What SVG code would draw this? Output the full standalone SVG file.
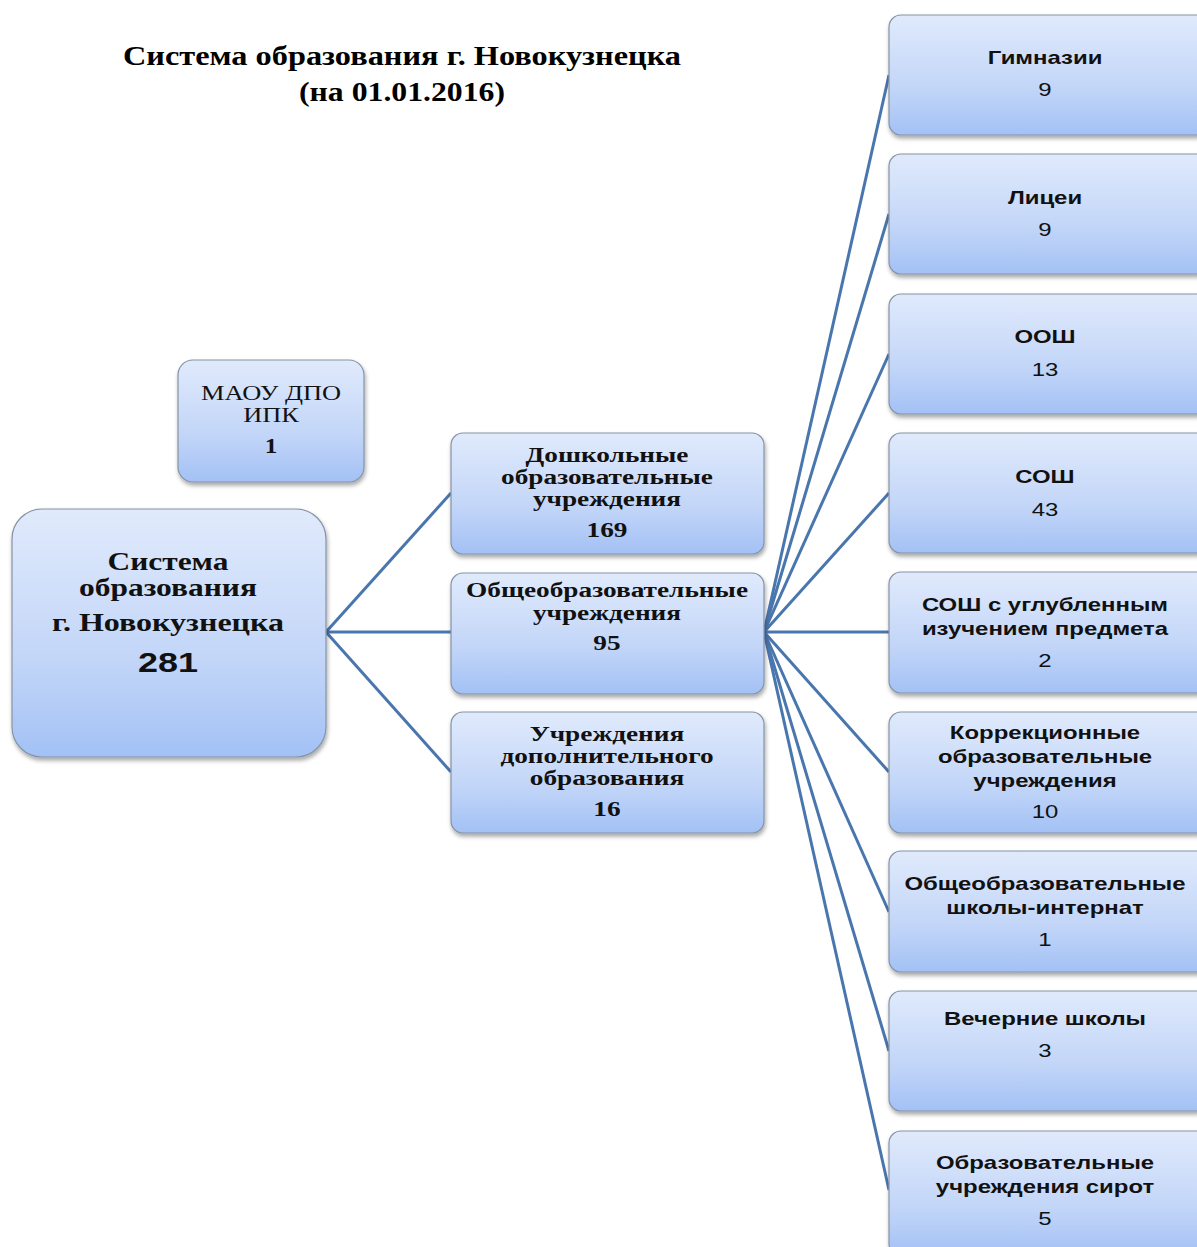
<svg xmlns="http://www.w3.org/2000/svg" width="1197" height="1247" viewBox="0 0 1197 1247">
<defs>
<linearGradient id="g" x1="0" y1="0" x2="0" y2="1">
<stop offset="0" stop-color="#e0eafc"/>
<stop offset="0.6" stop-color="#c3d6f8"/>
<stop offset="1" stop-color="#a3c1f5"/>
</linearGradient>
<filter id="sh" x="-10%" y="-10%" width="125%" height="125%">
<feDropShadow dx="1" dy="3" stdDeviation="2" flood-color="#000" flood-opacity="0.35"/>
</filter>
<style>
.box{fill:url(#g);stroke:#8593a6;stroke-width:1.2;filter:url(#sh)}
.ser{font-family:"Liberation Serif","Times New Roman",serif;font-weight:bold;font-size:21px;fill:#111;text-anchor:middle}
.big{font-size:25px}
.serr{font-family:"Liberation Serif","Times New Roman",serif;font-size:22px;fill:#111;text-anchor:middle}
.san{font-family:"Liberation Sans",Arial,sans-serif;font-weight:bold;font-size:18px;fill:#111;text-anchor:middle}
.num{font-family:"Liberation Sans",Arial,sans-serif;font-size:18px;fill:#111;text-anchor:middle}
.con{stroke:#4a76ae;stroke-width:3;fill:none}
</style>
</defs>
<rect width="1197" height="1247" fill="#fff"/>
<g id="title">
<text x="402" y="65" font-family="Liberation Serif, serif" font-weight="bold" font-size="28" text-anchor="middle" textLength="558" lengthAdjust="spacingAndGlyphs">Система образования г. Новокузнецка</text>
<text x="402" y="101" font-family="Liberation Serif, serif" font-weight="bold" font-size="28" text-anchor="middle" textLength="206" lengthAdjust="spacingAndGlyphs">(на 01.01.2016)</text>
</g>
<g id="connectors">
<line class="con" x1="326" y1="632" x2="451" y2="493"/>
<line class="con" x1="326" y1="632" x2="451" y2="632"/>
<line class="con" x1="326" y1="632" x2="451" y2="772"/>
<line class="con" x1="764" y1="632" x2="889" y2="75"/>
<line class="con" x1="764" y1="632" x2="889" y2="214"/>
<line class="con" x1="764" y1="632" x2="889" y2="354"/>
<line class="con" x1="764" y1="632" x2="889" y2="493"/>
<line class="con" x1="764" y1="632" x2="889" y2="632"/>
<line class="con" x1="764" y1="632" x2="889" y2="772"/>
<line class="con" x1="764" y1="632" x2="889" y2="912"/>
<line class="con" x1="764" y1="632" x2="889" y2="1051"/>
<line class="con" x1="764" y1="632" x2="889" y2="1190"/>
</g>
<g id="root">
<rect class="box" x="12" y="509" width="314" height="248" rx="30"/>
<text class="ser big" x="168" y="570" textLength="121" lengthAdjust="spacingAndGlyphs">Система</text>
<text class="ser big" x="168" y="596" textLength="178" lengthAdjust="spacingAndGlyphs">образования</text>
<text class="ser big" x="168" y="631" textLength="232" lengthAdjust="spacingAndGlyphs">г. Новокузнецка</text>
<text x="168" y="672" font-family="Liberation Sans, Arial, sans-serif" font-weight="bold" font-size="28" text-anchor="middle" fill="#111" textLength="60" lengthAdjust="spacingAndGlyphs">281</text>
</g>
<g id="maou">
<rect class="box" x="178" y="360" width="186" height="122" rx="15"/>
<g transform="translate(271,0) scale(1.2,1)">
<text class="serr" x="0" y="400">МАОУ ДПО</text>
<text class="serr" x="0" y="422">ИПК</text>
<text class="ser" x="0" y="453">1</text>
</g>
</g>
<g id="preschool">
<rect class="box" x="451" y="433" width="313" height="121" rx="12"/>
<g transform="translate(607,0) scale(1.3,1)">
<text class="ser" x="0" y="462">Дошкольные</text>
<text class="ser" x="0" y="484">образовательные</text>
<text class="ser" x="0" y="506">учреждения</text>
<text class="ser" x="0" y="537">169</text>
</g>
</g>
<g id="general">
<rect class="box" x="451" y="573" width="313" height="121" rx="12"/>
<g transform="translate(607,0) scale(1.3,1)">
<text class="ser" x="0" y="597">Общеобразовательные</text>
<text class="ser" x="0" y="620">учреждения</text>
<text class="ser" x="0" y="650">95</text>
</g>
</g>
<g id="additional">
<rect class="box" x="451" y="712" width="313" height="121" rx="12"/>
<g transform="translate(607,0) scale(1.3,1)">
<text class="ser" x="0" y="741">Учреждения</text>
<text class="ser" x="0" y="763">дополнительного</text>
<text class="ser" x="0" y="785">образования</text>
<text class="ser" x="0" y="816">16</text>
</g>
</g>
<g id="gymn">
<rect class="box" x="889" y="15" width="320" height="120" rx="12"/>
<g transform="translate(1045,0) scale(1.33,1)"><text class="san" x="0" y="64">Гимназии</text><text class="num" x="0" y="96">9</text></g>
</g>
<g id="lyc">
<rect class="box" x="889" y="154" width="320" height="120" rx="12"/>
<g transform="translate(1045,0) scale(1.33,1)"><text class="san" x="0" y="204">Лицеи</text><text class="num" x="0" y="236">9</text></g>
</g>
<g id="oosh">
<rect class="box" x="889" y="294" width="320" height="120" rx="12"/>
<g transform="translate(1045,0) scale(1.33,1)"><text class="san" x="0" y="343">ООШ</text><text class="num" x="0" y="376">13</text></g>
</g>
<g id="sosh">
<rect class="box" x="889" y="433" width="320" height="120" rx="12"/>
<g transform="translate(1045,0) scale(1.33,1)"><text class="san" x="0" y="483">СОШ</text><text class="num" x="0" y="516">43</text></g>
</g>
<g id="sosh-deep">
<rect class="box" x="889" y="572" width="320" height="121" rx="12"/>
<g transform="translate(1045,0) scale(1.33,1)"><text class="san" x="0" y="611">СОШ с углубленным</text><text class="san" x="0" y="635">изучением предмета</text><text class="num" x="0" y="667">2</text></g>
</g>
<g id="correction">
<rect class="box" x="889" y="712" width="320" height="121" rx="12"/>
<g transform="translate(1045,0) scale(1.33,1)"><text class="san" x="0" y="739">Коррекционные</text><text class="san" x="0" y="763">образовательные</text><text class="san" x="0" y="787">учреждения</text><text class="num" x="0" y="818">10</text></g>
</g>
<g id="boarding">
<rect class="box" x="889" y="851" width="320" height="121" rx="12"/>
<g transform="translate(1045,0) scale(1.33,1)"><text class="san" x="0" y="890">Общеобразовательные</text><text class="san" x="0" y="914">школы-интернат</text><text class="num" x="0" y="946">1</text></g>
</g>
<g id="evening">
<rect class="box" x="889" y="991" width="320" height="120" rx="12"/>
<g transform="translate(1045,0) scale(1.33,1)"><text class="san" x="0" y="1025">Вечерние школы</text><text class="num" x="0" y="1057">3</text></g>
</g>
<g id="orphans">
<rect class="box" x="889" y="1131" width="320" height="125" rx="12"/>
<g transform="translate(1045,0) scale(1.33,1)"><text class="san" x="0" y="1169">Образовательные</text><text class="san" x="0" y="1193">учреждения сирот</text><text class="num" x="0" y="1225">5</text></g>
</g>
</svg>
